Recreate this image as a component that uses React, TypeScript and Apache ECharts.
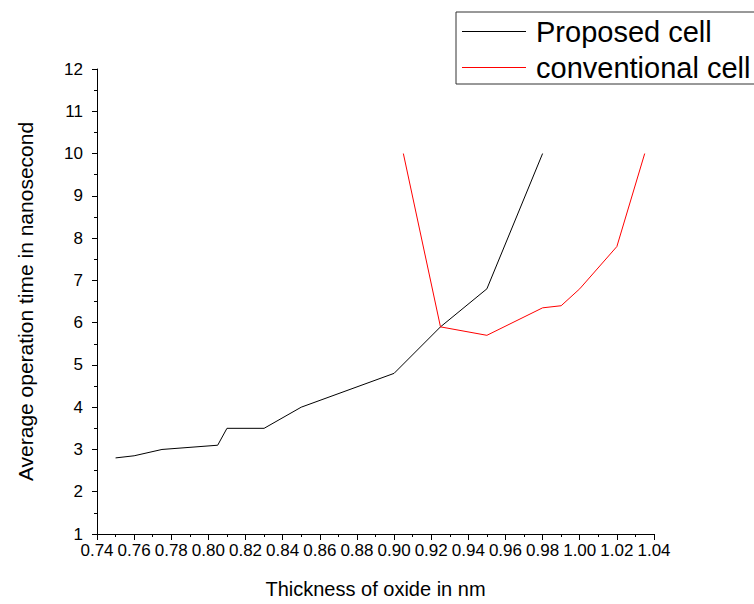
import React, { useEffect, useRef } from "react";
import * as echarts from "echarts";

const proposedX = [0.75, 0.76, 0.775, 0.805, 0.81, 0.83, 0.85, 0.9, 0.925, 0.95, 0.98];
const proposedY = [2.8, 2.85, 3.0, 3.1, 3.5, 3.5, 4.0, 4.8, 5.9, 6.8, 10.0];
const conventionalX = [0.905, 0.925, 0.95, 0.98, 0.99, 1.0, 1.02, 1.035];
const conventionalY = [10.0, 5.9, 5.7, 6.35, 6.4, 6.8, 7.8, 10.0];

const seriesNames = ["Proposed cell", "conventional cell"];
const xTitle = "Thickness of oxide in nm";
const yTitle = "Average operation time in nanosecond";

const FONT = "'Liberation Sans', Arial, sans-serif";

export default function App() {
  const ref = useRef<HTMLDivElement>(null);
  useEffect(() => {
    if (!ref.current) return;
    const chart = echarts.init(ref.current, undefined, { renderer: "svg" });
    const pair = (xs: number[], ys: number[]) => xs.map((x, i) => [x, ys[i]]);
    chart.setOption({
      animation: false,
      backgroundColor: "#fff",
      textStyle: { fontFamily: FONT },
      grid: { left: 97, top: 69, right: 100, bottom: 604 - 537, containLabel: false },
      legend: {
        orient: "vertical",
        left: 456,
        top: 12,
        data: [
          { name: seriesNames[0], icon: "rect", itemStyle: { color: "#000" } },
          { name: seriesNames[1], icon: "rect", itemStyle: { color: "#ff0000" } },
        ],
        itemWidth: 64,
        itemHeight: 1,
        itemGap: 7,
        padding: [5, 6, 2, 6],
        borderColor: "#333",
        borderWidth: 1,
        textStyle: { fontSize: 29, color: "#000", fontFamily: FONT, padding: [0, 0, 0, 5] },
      },
      xAxis: {
        type: "value",
        min: 0.74,
        max: 1.04,
        interval: 0.02,
        name: xTitle,
        nameLocation: "middle",
        nameGap: 45,
        nameTextStyle: { fontSize: 20, color: "#000", fontFamily: FONT },
        axisLine: { show: true, lineStyle: { color: "#000", width: 1 } },
        axisTick: { show: true, length: 6, lineStyle: { color: "#000" } },
        minorTick: { show: true, splitNumber: 2, length: 3, lineStyle: { color: "#000" } },
        splitLine: { show: false },
        axisLabel: {
          fontSize: 17,
          color: "#000",
          margin: 8,
          fontFamily: FONT,
          formatter: (v: number) => v.toFixed(2),
        },
      },
      yAxis: {
        type: "value",
        min: 1,
        max: 12,
        interval: 1,
        name: yTitle,
        nameLocation: "middle",
        nameRotate: 90,
        nameGap: 61,
        nameTextStyle: { fontSize: 21, color: "#000", fontFamily: FONT },
        axisLine: { show: true, lineStyle: { color: "#000", width: 1 } },
        axisTick: { show: true, length: 5, lineStyle: { color: "#000" } },
        minorTick: { show: true, splitNumber: 2, length: 3, lineStyle: { color: "#000" } },
        splitLine: { show: false },
        axisLabel: { fontSize: 17, color: "#000", margin: 14, fontFamily: FONT },
      },
      series: [
        {
          name: seriesNames[0],
          type: "line",
          data: pair(proposedX, proposedY),
          symbol: "none",
          lineStyle: { color: "#000", width: 1 },
          itemStyle: { color: "#000" },
        },
        {
          name: seriesNames[1],
          type: "line",
          data: pair(conventionalX, conventionalY),
          symbol: "none",
          lineStyle: { color: "#ff0000", width: 1 },
          itemStyle: { color: "#ff0000" },
        },
      ],
    });
    return () => chart.dispose();
  }, []);
  return (
    <div
      ref={ref}
      style={{ position: "fixed", left: 0, top: 0, width: 754, height: 604 }}
    />
  );
}
